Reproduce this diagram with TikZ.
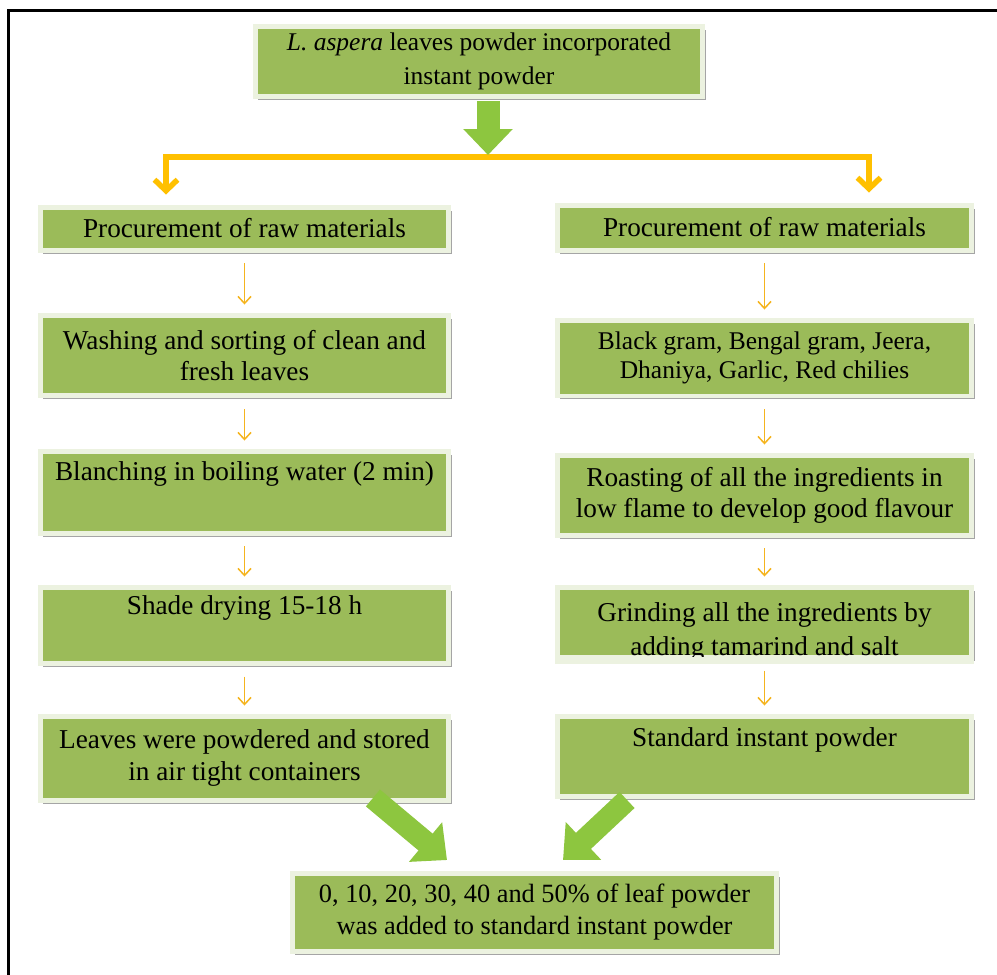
\documentclass[tikz,border=0pt]{standalone}
\usepackage{fontspec}
\setmainfont{Liberation Serif}
\usetikzlibrary{calc,arrows.meta,shadows}
\definecolor{boxgreen}{RGB}{155,187,89}
\definecolor{boxpale}{RGB}{236,242,224}
\definecolor{shadowgray}{RGB}{165,165,165}
\definecolor{arrowgreen}{RGB}{141,198,63}
\definecolor{gold}{RGB}{255,192,0}
\definecolor{thingold}{RGB}{245,180,30}
\tikzset{
	stepbox/.style={draw=boxpale, line width=0.1cm, fill=boxgreen, inner xsep=0pt, inner ysep=0pt, align=center, font=\fontsize{15.5}{18}\selectfont, drop shadow={shadow xshift=0.06cm, shadow yshift=-0.07cm, fill=shadowgray, opacity=1}},
	leftcol/.style={stepbox, minimum width=8.18cm},
	rightcol/.style={stepbox, minimum width=8.3cm},
	smallarrow/.style={draw=thingold, line width=0.03cm, -{Straight Barb[length=0.14cm,width=0.26cm]}, shorten <=0.22cm, shorten >=0.16cm},
	goldbar/.style={draw=gold, line width=0.11cm},
	bigarrow/.style={draw=arrowgreen, line width=0.46cm, -{Triangle[length=0.52cm,width=0.96cm]}}
}

\begin{document}
\begin{tikzpicture}[x=0.02cm, y=-0.02cm]
		%%%%% START %%%%%
		\useasboundingbox (0, 0) rectangle (997, 974);
		\draw[line width=0.06cm] (8.5, 990) -- (8.5, 10.5) -- (1010, 10.5);
		
		\node[stepbox, minimum width=8.96cm, minimum height=1.42cm, font=\fontsize{14.5}{19.5}\selectfont] (intro) at (479, 61.5) {\textit{L. aspera} leaves powder incorporated\\instant powder};
		
		\node[leftcol, minimum height=0.86cm] (lproc) at (244.5, 228.5) {Procurement of raw materials};
		\node[leftcol, minimum height=1.62cm] (lwash) at (244.5, 355.5) {Washing and sorting of clean and\\fresh leaves};
		\node[leftcol, text height=0.58cm, text depth=1.06cm] (lblanch) at (244.5, 492) {Blanching in boiling water (2 min)};
		\node[leftcol, text height=0.54cm, text depth=0.98cm] (lshade) at (244.5, 625) {Shade drying 15-18 h};
		\node[leftcol, minimum height=1.68cm] (lleaves) at (244.5, 758) {Leaves were powdered and stored\\in air tight containers};
		
		\node[rightcol, minimum height=0.9cm] (rproc) at (764.5, 227.5) {Procurement of raw materials};
		\node[rightcol, minimum height=1.52cm, font=\fontsize{14.5}{16.5}\selectfont] (rgram) at (764.5, 358) {Black gram, Bengal gram, Jeera,\\Dhaniya, Garlic, Red chilies};
		\node[rightcol, minimum height=1.6cm, font=\fontsize{15.5}{17.5}\selectfont] (rroast) at (764.5, 495) {Roasting of all the ingredients in\\low flame to develop good flavour};
		\node[rightcol, text height=0.68cm, text depth=0.72cm, font=\fontsize{15.5}{19.5}\selectfont] (rgrind) at (764.5, 622) {\begin{tabular}[t]{@{}c@{}}Grinding all the ingredients by\\adding tamarind and salt\end{tabular}};
		\fill[boxpale] ($(rgrind.south west)+(0, -2.5)$) rectangle ($(rgrind.south east)+(0, 4)$);
		\node[rightcol, text height=0.6cm, text depth=1.0cm] (rstd) at (764.5, 756) {Standard instant powder};
		
		\node[stepbox, minimum width=9.7cm, minimum height=1.56cm, font=\fontsize{15}{18.5}\selectfont] (final) at (534.5, 912) {0, 10, 20, 30, 40 and 50\% of leaf powder\\was added to standard instant powder};
		
		\foreach \a/\b in {lproc/lwash, lwash/lblanch, lblanch/lshade, lshade/lleaves, rproc/rgram, rgram/rroast, rroast/rgrind, rgrind/rstd}
			\draw[smallarrow] (\a) -- (\b);
		
		\coordinate (split) at (488, 157);
		\coordinate (lbend) at (166, 157);
		\coordinate (rbend) at (869, 157);
		\draw[goldbar, {Straight Barb[length=0.22cm,width=0.46cm]}-{Straight Barb[length=0.22cm,width=0.46cm]}, shorten <=0.2cm, shorten >=0.2cm] (lbend |- lproc.north) -- (lbend) -- (rbend) -- (rbend |- rproc.north);
		
		\draw[bigarrow] ($(intro.south)+(9, 2)$) -- ($(split)+(0, -2)$);
		\draw[bigarrow, line width=0.44cm, -{Triangle[length=0.56cm,width=1.0cm]}] ($(lleaves.south east)+(-78.5, -4.5)$) -- ($(final.north)+(-87.5, -10.5)$);
		\draw[bigarrow, line width=0.44cm, -{Triangle[length=0.56cm,width=1.0cm]}] ($(rstd.south west)+(72.5, 1.5)$) -- ($(final.north)+(28.5, -10.5)$);
		
		%%%%% END %%%%%
\end{tikzpicture}
\end{document}
